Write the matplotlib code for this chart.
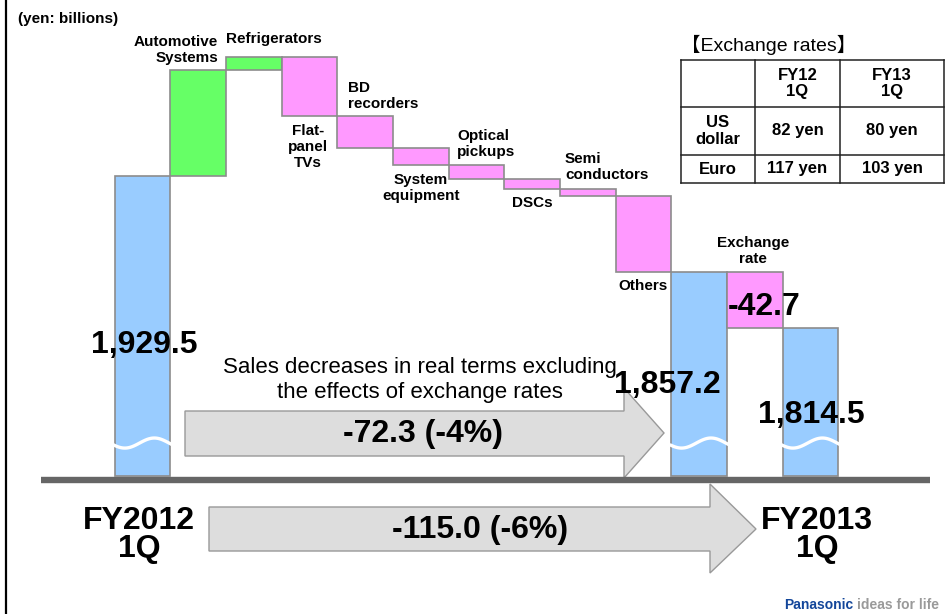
import numpy as np
import matplotlib
matplotlib.use("Agg")
import matplotlib.pyplot as plt
import matplotlib.transforms as mtransforms
from matplotlib.patches import Polygon

plt.rcParams['font.family'] = ['Liberation Sans', 'DejaVu Sans']

W, H = 952, 614

# net sales, yen billions
start_sales = 1929.5
factor_labels = ["Automotive\nSystems", "Refrigerators", "Flat-\npanel\nTVs", "BD\nrecorders",
                 "System\nequipment", "Optical\npickups", "DSCs", "Semi\nconductors", "Others"]
factor_deltas = [80.0, 10.0, -45.0, -24.0, -13.0, -10.0, -8.0, -5.0, -57.3]
local_sales = 1857.2
fx_label = "Exchange\nrate"
fx_delta = -42.7
end_sales = 1814.5
real_change = "-72.3 (-4%)"
total_change = "-115.0 (-6%)"

# exchange rate table
fx_cols = ["FY12\n1Q", "FY13\n1Q"]
fx_rows = ["US\ndollar", "Euro"]
fx_rates = [["82 yen", "80 yen"], ["117 yen", "103 yen"]]

BLUE, GREEN, PINK = "#99ccff", "#66ff66", "#ff99ff"
EDGE = "#8c8c8c"
BREAK_BASE = 1703.0   # value where the broken bars stop

fig = plt.figure(figsize=(W / 100, H / 100), dpi=100)
ax = fig.add_axes([0, 0, 1, 1])
ax.set_xlim(-2.56, 14.54)
ax.set_ylim(1598.7, 2062.4)
ax.axis("off")

# pixel coordinates measured from the top-left corner
pix = mtransforms.Affine2D().scale(1 / W, -1 / H).translate(0, 1) + fig.transFigure

# waterfall bars
xs, bottoms, heights, colors = [], [], [], []
xs.append(0); bottoms.append(BREAK_BASE); heights.append(start_sales - BREAK_BASE); colors.append(BLUE)
level = start_sales
for i, d in enumerate(factor_deltas):
    new = level + d
    xs.append(i + 1)
    bottoms.append(min(level, new))
    heights.append(abs(d))
    colors.append(GREEN if d > 0 else PINK)
    level = new
n = len(factor_deltas) + 1
xs.append(n); bottoms.append(BREAK_BASE); heights.append(local_sales - BREAK_BASE); colors.append(BLUE)
xs.append(n + 1); bottoms.append(local_sales + fx_delta); heights.append(-fx_delta); colors.append(PINK)
xs.append(n + 2); bottoms.append(BREAK_BASE); heights.append(end_sales - BREAK_BASE); colors.append(BLUE)

ax.bar(xs, heights, bottom=bottoms, width=1.0, color=colors, edgecolor=EDGE,
       linewidth=1.2, zorder=3)

# axis-break waves on the total bars
t = np.linspace(0, 1, 60)
for i in (0, n, n + 2):
    wx = i - 0.53 + 1.06 * t
    wy = 1727.8 - 3.8 * np.sin(2 * np.pi * (t + 0.05))
    ax.plot(wx, wy, color="white", lw=2.4, zorder=4, solid_capstyle="butt")

# big gray arrows
up_arrow = [(185, 411), (624, 411), (624, 388), (664, 433), (624, 478), (624, 456), (185, 456)]
low_arrow = [(209, 507), (710, 507), (710, 484), (756, 529), (710, 573), (710, 551), (209, 551)]
for pts in (up_arrow, low_arrow):
    ax.add_patch(Polygon(pts, closed=True, transform=pix, facecolor="#dddddd",
                         edgecolor="#999999", lw=1.0, zorder=2))

# baseline and left rule
ax.plot([41, 930], [479.5, 479.5], transform=pix, color="#666666", lw=4.6, zorder=5,
        solid_capstyle="butt")
ax.plot([5.5, 5.5], [0, H], transform=pix, color="black", lw=1.6, zorder=5)

# category labels
lab = dict(fontsize=11, fontweight="bold", linespacing=1.2, zorder=6, transform=pix)
pos = [(218, 50, "right"), (274, 39, "center"), (308, 147, "center"), (348, 96, "left"),
       (421, 188, "center"), (457, 144, "left"), (532, 203, "center"), (565, 167, "left"),
       (618, 286, "left")]
for (x, y, ha), text in zip(pos, factor_labels):
    ax.text(x, y, text, ha=ha, va="center", multialignment=ha, **lab)
ax.text(753, 251, fx_label, ha="center", va="center", **lab)

# big value labels
big = dict(fontsize=23, fontweight="bold", ha="center", va="center", zorder=6, transform=pix)
ax.text(144, 345, f"{start_sales:,.1f}", **big)
ax.text(667, 385, f"{local_sales:,.1f}", **big)
ax.text(811, 415, f"{end_sales:,.1f}", **big)
ax.text(764, 307, f"{fx_delta:.1f}", **big)
ax.text(423, 434, real_change, **big)
ax.text(480, 530, total_change, **big)
ax.text(139, 535, "FY2012\n1Q", linespacing=0.95, **big)
ax.text(817, 535, "FY2013\n1Q", linespacing=0.95, **big)

ax.text(420, 380, "Sales decreases in real terms excluding\nthe effects of exchange rates",
        fontsize=16, ha="center", va="center", linespacing=1.25, zorder=6, transform=pix)

ax.text(18, 19, "(yen: billions)", fontsize=11, fontweight="bold", ha="left", va="center",
        transform=pix)

# exchange rate table
ax.text(681, 45, "【Exchange rates】", fontsize=14, ha="left", va="center",
        family=["Liberation Sans", "Noto Sans CJK JP"], transform=pix)
tx = [681, 755, 840, 944]
ty = [60, 107, 155, 183]
for x in tx:
    ax.plot([x, x], [ty[0], ty[-1]], transform=pix, color="#222222", lw=1.1)
for y in ty:
    ax.plot([tx[0], tx[-1]], [y, y], transform=pix, color="#222222", lw=1.1)
cell = dict(fontsize=12, fontweight="bold", ha="center", va="center", linespacing=1.1,
            transform=pix)
cx = [(tx[k] + tx[k + 1]) / 2 for k in range(3)]
cy = [(ty[k] + ty[k + 1]) / 2 for k in range(3)]
for j, c in enumerate(fx_cols):
    ax.text(cx[j + 1], cy[0], c, **cell)
for r, name in enumerate(fx_rows):
    ax.text(cx[0], cy[r + 1], name, **cell)
    for j, v in enumerate(fx_rates[r]):
        ax.text(cx[j + 1], cy[r + 1], v, **cell)

# brand mark
ax.text(853, 605, "Panasonic", fontsize=10, fontweight="bold", color="#13469a",
        ha="right", va="center", transform=pix)
ax.text(857, 605, "ideas for life", fontsize=10, fontweight="bold", color="#9a9a9a",
        ha="left", va="center", transform=pix)

fig.savefig("out.png", dpi=100)
